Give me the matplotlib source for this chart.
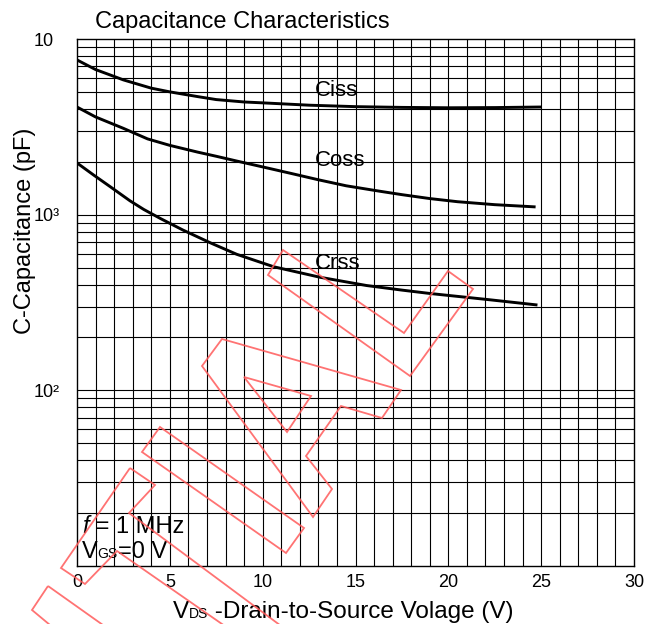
import matplotlib
matplotlib.use("Agg")
import matplotlib.pyplot as plt
from matplotlib.patches import Polygon
from matplotlib.ticker import FixedLocator, FixedFormatter, NullFormatter

plt.rcParams['font.family'] = ['Liberation Sans', 'DejaVu Sans']

# capacitance curves, V_DS in volts, C in pF
ciss_v = [0, 1, 2.5, 4, 5, 6.5, 7.5, 9, 10, 12.5, 15, 17.5, 20, 22.5, 25]
ciss_c = [7600, 6700, 5850, 5250, 5000, 4700, 4520, 4380, 4330, 4200, 4120, 4080, 4060, 4070, 4100]

coss_v = [0, 1, 2.5, 3.8, 5, 6.5, 7.5, 8.6, 10, 11.5, 13, 14.5, 16.3, 17.5, 19, 20.5, 22.5, 24.7]
coss_c = [4100, 3600, 3100, 2700, 2480, 2270, 2150, 2020, 1870, 1720, 1580, 1460, 1360, 1300, 1235, 1185, 1140, 1107]

crss_v = [0, 0.9, 1.8, 2.85, 3.6, 4.5, 5.7, 7.2, 8.6, 10.6, 13.1, 15.6, 17.5, 19, 22.2, 24.8]
crss_c = [1970, 1680, 1440, 1200, 1070, 950, 818, 690, 595, 505, 440, 395, 372, 356, 328, 306]

curve_names = ["Ciss", "Coss", "Crss"]
name_pos = [(12.8, 4740), (12.8, 1890), (12.8, 490)]

x_ticks = [0, 5, 10, 15, 20, 25, 30]
y_ticks = [100, 1000, 10000]
y_tick_labels = ["10²", "10³", "10"]

W, H = 661, 624
fig = plt.figure(figsize=(W / 100, H / 100), dpi=100)
ax = fig.add_axes([77 / W, 1 - 566 / H, (634 - 77) / W, (566 - 39) / H])
renderer = fig.canvas.get_renderer()


def run_text(x_px, y_px, parts):
    # writes pieces one after another on a shared baseline (pixel coords, top left origin)
    x = x_px / W
    for s, size, style in parts:
        t = fig.text(x, 1 - y_px / H, s, fontsize=size, style=style,
                     ha='left', va='baseline', zorder=5)
        x += t.get_window_extent(renderer).width / W


ax.set_yscale('log')
ax.set_xlim(0, 30)
ax.set_ylim(10, 10000)

# grid: every volt, every log step
for v in range(1, 30):
    ax.axvline(v, color='black', lw=0.8, zorder=1)
for dec in [10, 100, 1000]:
    for k in range(1, 10):
        if dec * k > 10:
            ax.axhline(dec * k, color='black', lw=0.8, zorder=1)

for xs, ys in [(ciss_v, ciss_c), (coss_v, coss_c), (crss_v, crss_c)]:
    ax.plot(xs, ys, color='black', lw=2.1, zorder=3, solid_capstyle='butt')

for name, (x, y) in zip(curve_names, name_pos):
    ax.text(x, y, name, fontsize=16, ha='left', va='baseline', zorder=4)

ax.xaxis.set_major_locator(FixedLocator(x_ticks))
ax.yaxis.set_major_locator(FixedLocator(y_ticks))
ax.yaxis.set_major_formatter(FixedFormatter(y_tick_labels))
ax.yaxis.set_minor_formatter(NullFormatter())
ax.tick_params(axis='both', which='both', length=0, labelsize=13)
ax.tick_params(axis='x', pad=6)
ax.tick_params(axis='y', pad=31)
for lab in ax.get_yticklabels():
    lab.set_horizontalalignment('left')
for s in ax.spines.values():
    s.set_linewidth(1.0)

fig.text(25 / W, 1 - 231 / H, "C-Capacitance (pF)", fontsize=17, rotation=90,
         ha='center', va='center')
fig.text(95 / W, 1 - 28 / H, "Capacitance Characteristics", fontsize=17,
         ha='left', va='baseline')

run_text(173, 618, [("V", 17.5, 'normal'), ("DS", 10, 'normal'),
                    (" -Drain-to-Source Volage (V)", 17.5, 'normal')])
run_text(82, 533, [("f", 17, 'italic'), (" = 1 MHz", 17, 'normal')])
run_text(82, 558, [("V", 17, 'normal'), ("GS", 10, 'normal'), ("=0 V", 17, 'normal')])

# red outline stamp over the plot (pixel coords, origin top left)
stamp = [
    [(283, 250), (268, 275), (410, 376), (473, 289), (448, 271), (404, 333)],
    [(222, 339), (202, 366), (313, 517), (332, 489), (306, 456), (341, 406), (382, 418), (401, 390)],
    [(244, 377), (311, 396), (287, 432)],
    [(160, 427), (142, 452), (286, 553), (304, 528)],
    [(130, 468), (61, 568), (85, 584), (117, 551), (245, 640), (300, 640), (129, 513), (155, 485)],
    [(48, 586), (32, 610), (80, 650), (110, 630)],
]
for pts in stamp:
    fig_pts = [(x / W, 1 - y / H) for x, y in pts]
    fig.add_artist(Polygon(fig_pts, closed=True, fill=False, edgecolor='#ff5a5a',
                           alpha=0.85, lw=1.3, transform=fig.transFigure, zorder=10))

fig.savefig("out.png", dpi=100)
